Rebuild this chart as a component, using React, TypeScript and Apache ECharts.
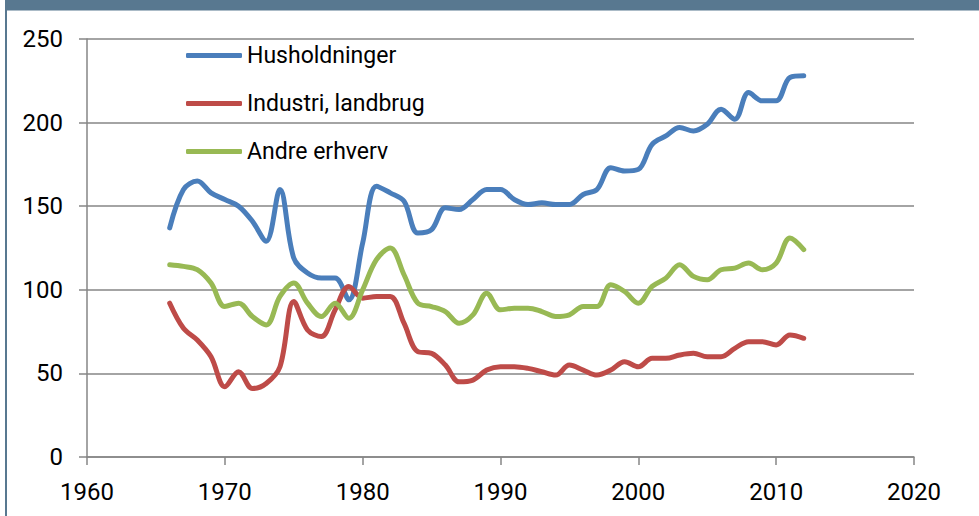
import React, { useEffect, useRef } from "react";
import * as echarts from "echarts";

const years: number[] = [];
for (let y = 1966; y <= 2012; y++) years.push(y);

const husholdninger = [
  137, 160, 165, 158, 154, 150, 141, 129, 160, 119, 110, 107, 107, 94, 128, 162, 158, 153, 134, 136,
  149, 148, 154, 160, 160, 154, 151, 152, 151, 151, 157, 160, 173, 171, 172, 187, 192, 197, 195, 199,
  208, 202, 218, 213, 213, 227, 228,
];
const industri = [
  92, 77, 70, 60, 42, 51, 41, 44, 54, 93, 76, 72, 88, 102, 95, 96, 96, 80, 63, 62, 55, 45, 46, 52, 54,
  54, 53, 51, 49, 55, 52, 49, 52, 57, 54, 59, 59, 61, 62, 60, 60, 65, 69, 69, 67, 73, 71,
];
const andre = [
  115, 114, 112, 104, 90, 92, 84, 79, 96, 104, 92, 84, 92, 83, 100, 118, 125, 109, 92, 90, 87, 80, 85,
  98, 88, 89, 89, 87, 84, 85, 90, 90, 103, 99, 92, 102, 107, 115, 108, 106, 112, 113, 116, 112, 116,
  131, 124,
];

const seriesNames = ["Husholdninger", "Industri, landbrug", "Andre erhverv"];
const seriesColors = ["#4A7EBB", "#BE4B48", "#98B954"];
const seriesData = [husholdninger, industri, andre];

const xTicks = { min: 1960, max: 2020, interval: 10 };
const yTicks = { min: 0, max: 250, interval: 50 };

const FONT = "Roboto, 'Noto Sans', sans-serif";

export default function App() {
  const ref = useRef<HTMLDivElement>(null);
  useEffect(() => {
    document.body.style.margin = "0";
    if (!ref.current) return;
    const chart = echarts.init(ref.current, null, { renderer: "svg" });
    chart.setOption({
      animation: false,
      backgroundColor: "#ffffff",
      graphic: [
        {
          type: "rect",
          shape: { x: 5, y: 0, width: 974, height: 10.5 },
          style: { fill: "#587890" },
          silent: true,
        },
        {
          type: "rect",
          shape: { x: 5, y: 0, width: 2, height: 516 },
          style: { fill: "#587890" },
          silent: true,
        },
      ],
      grid: { left: 87, right: 65, top: 39, bottom: 59, containLabel: false },
      legend: {
        orient: "vertical",
        left: 181,
        top: 39,
        itemWidth: 56,
        itemHeight: 5,
        itemGap: 25,
        icon: "roundRect",
        textStyle: { fontFamily: FONT, fontSize: 23, color: "#000" },
        data: seriesNames,
      },
      xAxis: {
        type: "value",
        min: xTicks.min,
        max: xTicks.max,
        interval: xTicks.interval,
        axisLine: { show: true, lineStyle: { color: "#868686", width: 1.5 } },
        axisTick: { show: true, length: 8, lineStyle: { color: "#868686", width: 1.5 } },
        axisLabel: {
          fontFamily: FONT,
          fontSize: 24,
          color: "#000",
          margin: 23,
          formatter: (v: number) => String(v),
        },
        splitLine: { show: false },
      },
      yAxis: {
        type: "value",
        min: yTicks.min,
        max: yTicks.max,
        interval: yTicks.interval,
        axisLine: { show: true, lineStyle: { color: "#868686", width: 1.5 } },
        axisTick: { show: true, inside: false, length: 8, lineStyle: { color: "#868686", width: 1.5 } },
        axisLabel: { fontFamily: FONT, fontSize: 24, color: "#000", margin: 24 },
        splitLine: { show: true, lineStyle: { color: "#868686", width: 1.5 } },
      },
      series: seriesNames.map((name, i) => ({
        name,
        type: "line",
        smooth: 0.35,
        showSymbol: false,
        symbol: "none",
        data: years.map((y, j) => [y, seriesData[i][j]]),
        lineStyle: { color: seriesColors[i], width: 5, cap: "round", join: "round" },
        itemStyle: { color: seriesColors[i] },
      })),
    });
    return () => chart.dispose();
  }, []);
  return (
    <div
      ref={ref}
      style={{ position: "absolute", left: 0, top: 0, width: 979, height: 516 }}
    />
  );
}
